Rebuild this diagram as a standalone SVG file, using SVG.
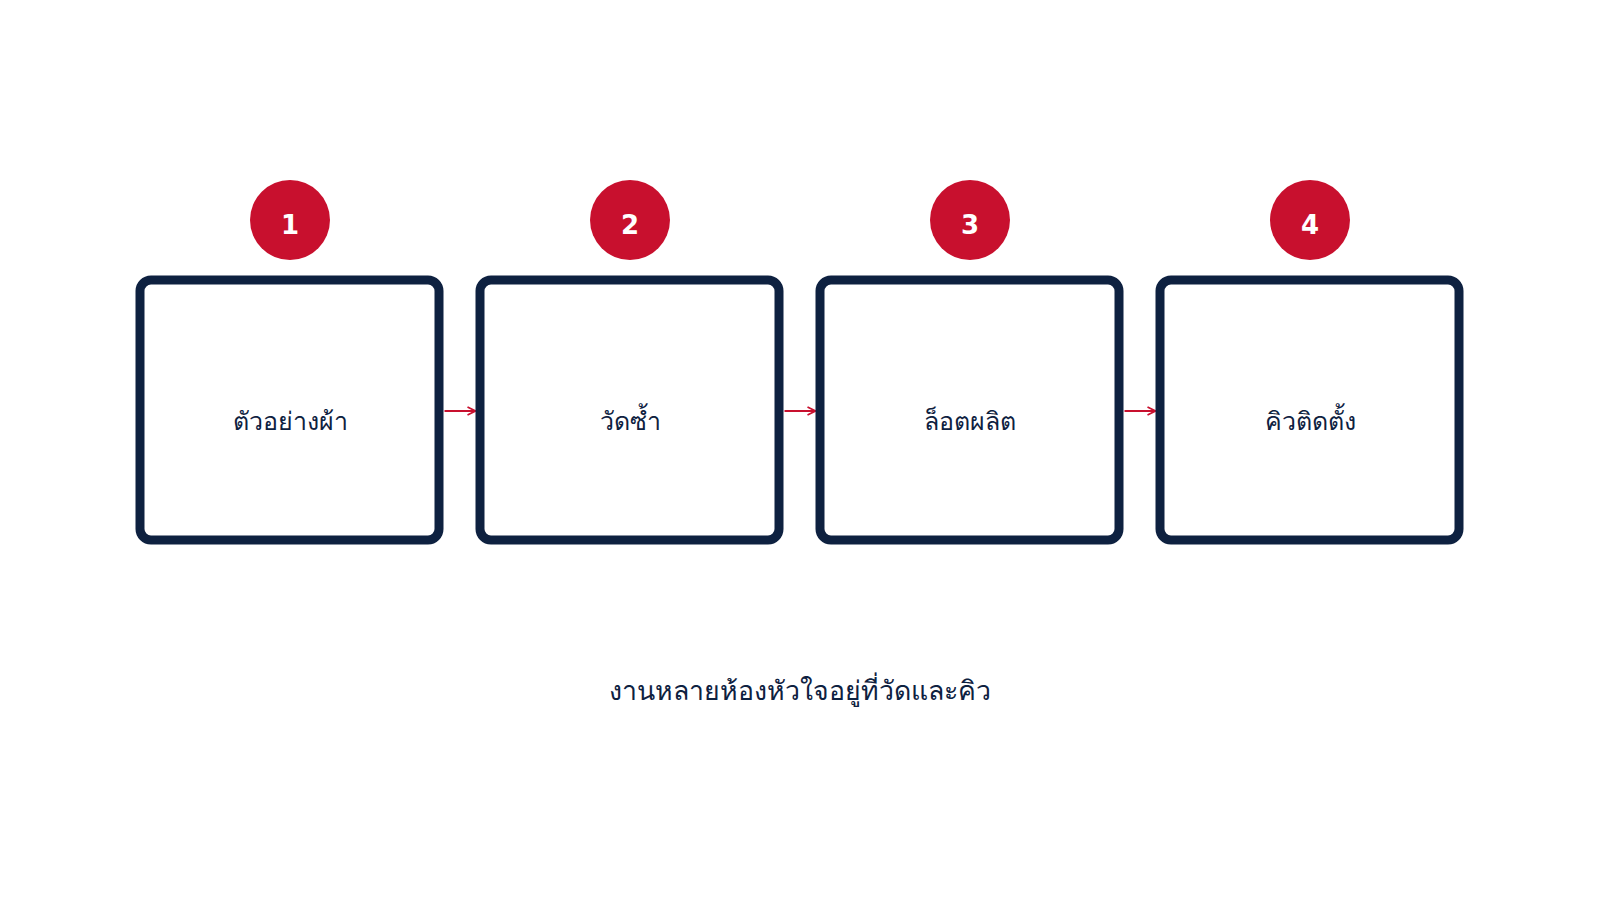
<svg xmlns="http://www.w3.org/2000/svg" width="1600" height="900" viewBox="0 0 1600 900">
<defs>
<style>
.box{fill:#ffffff;stroke:#0e2140;stroke-width:9}
.badge{fill:#c8102e}
.num{fill:#ffffff;font-family:"DejaVu Sans",sans-serif;font-weight:bold;font-size:26px;text-anchor:middle;dominant-baseline:central}
.lbl{fill:#0e2140;font-family:"Noto Sans","DejaVu Sans",sans-serif;font-size:25px;font-weight:500;text-anchor:middle;dominant-baseline:central}
.cap{fill:#0e2140;font-family:"Noto Sans","DejaVu Sans",sans-serif;font-size:26.7px;font-weight:500;text-anchor:middle;dominant-baseline:central}
.conn{stroke:#c8102e;stroke-width:2;fill:none}
</style>
<marker id="arr" viewBox="0 0 10 10" refX="9" refY="5" markerWidth="10" markerHeight="10" markerUnits="userSpaceOnUse" orient="auto">
<path d="M1,1 L9,5 L1,9" fill="none" stroke="#c8102e" stroke-width="1.8"/>
</marker>
</defs>
<rect width="1600" height="900" fill="#ffffff"/>
<g id="connectors">
<line class="conn" x1="444.5" y1="411" x2="475.5" y2="411" marker-end="url(#arr)"/>
<line class="conn" x1="784.5" y1="411" x2="815.5" y2="411" marker-end="url(#arr)"/>
<line class="conn" x1="1124.5" y1="411" x2="1155.5" y2="411" marker-end="url(#arr)"/>
</g>
<g id="step1">
<rect class="box" x="140" y="280" width="299" height="260" rx="11"/>
<circle class="badge" cx="290" cy="220" r="40"/>
<text class="num" x="290" y="225">1</text>
<text class="lbl" x="290" y="420">ตัวอย่างผ้า</text>
</g>
<g id="step2">
<rect class="box" x="480" y="280" width="299" height="260" rx="11"/>
<circle class="badge" cx="630" cy="220" r="40"/>
<text class="num" x="630" y="225">2</text>
<text class="lbl" x="630" y="420">วัดซ้ำ</text>
</g>
<g id="step3">
<rect class="box" x="820" y="280" width="299" height="260" rx="11"/>
<circle class="badge" cx="970" cy="220" r="40"/>
<text class="num" x="970" y="225">3</text>
<text class="lbl" x="970" y="420">ล็อตผลิต</text>
</g>
<g id="step4">
<rect class="box" x="1160" y="280" width="299" height="260" rx="11"/>
<circle class="badge" cx="1310" cy="220" r="40"/>
<text class="num" x="1310" y="225">4</text>
<text class="lbl" x="1310" y="420">คิวติดตั้ง</text>
</g>
<g id="caption">
<text class="cap" x="800" y="689">งานหลายห้องหัวใจอยู่ที่วัดและคิว</text>
</g>
</svg>
